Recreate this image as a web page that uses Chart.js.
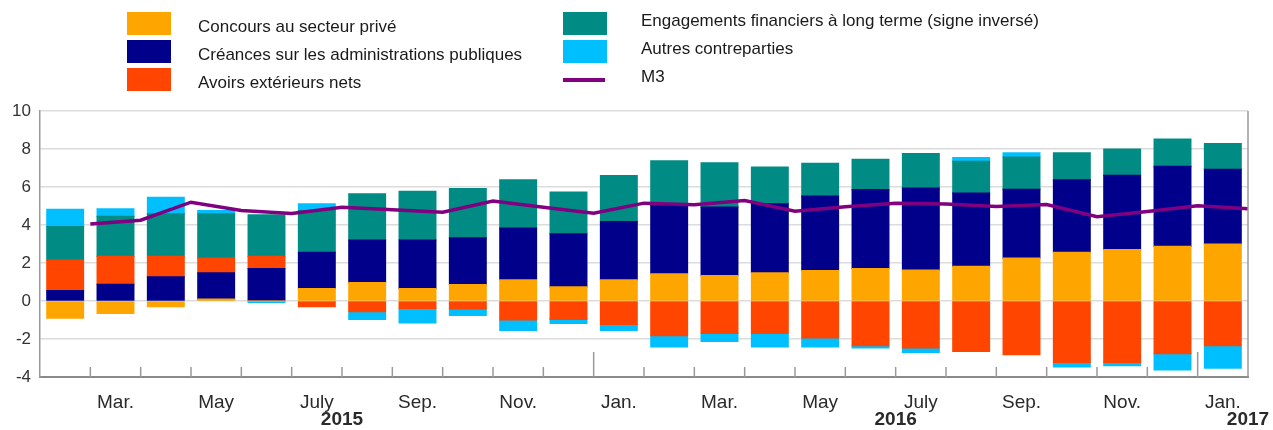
<!DOCTYPE html>
<html>
<head>
<meta charset="utf-8">
<script src="https://cdn.jsdelivr.net/npm/chart.js@4.4.1/dist/chart.umd.min.js"></script>
<style>
    body { margin: 0; background: #fff; font-family: "Liberation Sans", Arial, sans-serif; }
    #wrap { position: relative; width: 1273px; height: 430px; }
    #chart { position: absolute; left: 0; top: 0; }
    .lg-box { position: absolute; width: 44px; height: 23px; }
    .lg-line { position: absolute; width: 42px; height: 4px; }
    .lg-text { position: absolute; font-size: 17px; color: #1a1a1a; white-space: nowrap; line-height: 20px; }
</style>
</head>
<body>
<div id="wrap">
    <canvas id="chart" width="1273" height="430"></canvas>
</div>
<script>
// Mois (févr. 2015 - janv. 2017)
const months = ['Feb.', 'Mar.', 'Apr.', 'May', 'June', 'July', 'Aug.', 'Sep.', 'Oct.', 'Nov.', 'Dec.',
    'Jan.', 'Feb.', 'Mar.', 'Apr.', 'May', 'June', 'July', 'Aug.', 'Sep.', 'Oct.', 'Nov.', 'Dec.', 'Jan.'];

// Années, placées après l'index du mois indiqué
const years = ['2015', '2016', '2017'];
const yearAfter = [5, 16, 23];
// Changement d'année (trait plus long), après l'index
const yearBreaks = [10, 22];

const yTicks = [-4, -2, 0, 2, 4, 6, 8, 10];

// Séries (points de pourcentage)
const concours = [-0.9, -0.65, -0.3, 0.1, 0, 0.65, 0.97, 0.65, 0.86, 1.11, 0.74, 1.11,
    1.43, 1.34, 1.48, 1.6, 1.71, 1.62, 1.82, 2.26, 2.56, 2.7, 2.87, 3.0];
const creances = [0.55, 0.88, 1.27, 1.38, 1.71, 1.91, 2.24, 2.56, 2.46, 2.73, 2.79, 3.07,
    3.6, 3.6, 3.63, 3.92, 4.15, 4.32, 3.86, 3.61, 3.82, 3.91, 4.22, 3.93];
const avoirs = [1.6, 1.47, 1.08, 0.78, 0.64, -0.3, -0.56, -0.39, -0.41, -1.0, -0.97, -1.23,
    -1.82, -1.71, -1.71, -1.94, -2.35, -2.47, -2.65, -2.82, -3.23, -3.23, -2.77, -2.35];
const engagements = [1.77, 2.1, 2.24, 2.33, 2.18, 2.2, 2.43, 2.56, 2.59, 2.54, 2.2, 2.42,
    2.35, 2.33, 1.94, 1.73, 1.6, 1.82, 1.67, 1.71, 1.42, 1.38, 1.43, 1.36];
const autres = [0.91, 0.4, 0.86, 0.17, -0.07, 0.35, -0.41, -0.76, -0.35, -0.55, -0.21, -0.32,
    -0.6, -0.41, -0.71, -0.48, -0.12, -0.23, 0.2, 0.22, -0.24, -0.17, -0.85, -1.18];
// M3 : un point à la fin de chaque mois
const m3 = [4.05, 4.25, 5.2, 4.76, 4.6, 4.94, 4.8, 4.67, 5.26, 4.94, 4.62, 5.15,
    5.06, 5.29, 4.73, 4.96, 5.15, 5.11, 4.97, 5.08, 4.44, 4.71, 5.01, 4.85];

const seriesNames = ['Concours au secteur privé', 'Créances sur les administrations publiques',
    'Avoirs extérieurs nets', 'Engagements financiers à long terme (signe inversé)', 'Autres contreparties', 'M3'];
const seriesColors = ['#ffa500', '#00008b', '#ff4500', '#008b84', '#00bfff', '#800080'];

const FONT = '"Liberation Sans", Arial, sans-serif';

// Légende HTML en deux colonnes
function buildLegend() {
    const wrap = document.getElementById('wrap');
    const cols = [
        { boxX: 127, textX: 198, rows: [0, 1, 2], textTop: 17 },
        { boxX: 563, textX: 641, rows: [3, 4, 5], textTop: 11 }
    ];
    cols.forEach(col => {
        col.rows.forEach((s, r) => {
            const y = 12 + r * 28;
            const mark = document.createElement('div');
            if (s === 5) {
                mark.className = 'lg-line';
                mark.style.top = (y + 9.5) + 'px';
                mark.style.left = col.boxX + 'px';
            } else {
                mark.className = 'lg-box';
                mark.style.top = y + 'px';
                mark.style.left = col.boxX + 'px';
            }
            mark.style.background = seriesColors[s];
            wrap.appendChild(mark);

            const txt = document.createElement('div');
            txt.className = 'lg-text';
            txt.style.left = col.textX + 'px';
            txt.style.top = (col.textTop + r * 28) + 'px';
            txt.textContent = seriesNames[s];
            wrap.appendChild(txt);
        });
    });
}

// Petits traits de graduation vers l'intérieur, années, cadre droit
const axisDecor = {
    id: 'axisDecor',
    afterDatasetsDraw(chart) {
        const ctx = chart.ctx;
        const area = chart.chartArea;
        const x = chart.scales.x;
        const step = (area.right - area.left) / months.length;
        ctx.save();
        ctx.strokeStyle = '#9a9a9a';
        ctx.lineWidth = 1.5;
        for (let i = 0; i < months.length - 1; i++) {
            const px = (x.getPixelForValue(i) + x.getPixelForValue(i + 1)) / 2;
            const len = yearBreaks.includes(i) ? 25 : 10;
            ctx.beginPath();
            ctx.moveTo(px, area.bottom);
            ctx.lineTo(px, area.bottom - len);
            ctx.stroke();
        }
        // cadre droit
        ctx.beginPath();
        ctx.moveTo(area.right, area.top);
        ctx.lineTo(area.right, area.bottom);
        ctx.stroke();

        ctx.fillStyle = '#2a2a2a';
        ctx.font = 'bold 19px ' + FONT;
        ctx.textAlign = 'center';
        ctx.textBaseline = 'middle';
        years.forEach((y, k) => {
            const px = x.getPixelForValue(yearAfter[k]) + step / 2;
            ctx.fillText(y, px, area.bottom + 43);
        });
        ctx.restore();
    }
};

function makeBar(label, data, color) {
    return {
        type: 'bar',
        label: label,
        data: data,
        backgroundColor: color,
        borderWidth: 0,
        inflateAmount: 0.6,
        grouped: false,
        categoryPercentage: 1,
        barPercentage: 0.73,
        order: 1
    };
}

buildLegend();

const ctx = document.getElementById('chart').getContext('2d');
new Chart(ctx, {
    data: {
        labels: months,
        datasets: [
            makeBar(seriesNames[0], concours, seriesColors[0]),
            makeBar(seriesNames[1], creances, seriesColors[1]),
            makeBar(seriesNames[2], avoirs, seriesColors[2]),
            makeBar(seriesNames[3], engagements, seriesColors[3]),
            makeBar(seriesNames[4], autres, seriesColors[4]),
            {
                type: 'line',
                label: seriesNames[5],
                data: m3.map((v, i) => ({ x: i + 1, y: v })),
                xAxisID: 'x2',
                yAxisID: 'y2',
                borderColor: seriesColors[5],
                borderWidth: 3.5,
                pointRadius: 0,
                tension: 0,
                fill: false,
                order: 0
            }
        ]
    },
    options: {
        responsive: false,
        animation: false,
        layout: { padding: { top: 111, right: 25, left: 0, bottom: 0 } },
        plugins: {
            legend: { display: false },
            tooltip: { enabled: false }
        },
        scales: {
            x: {
                stacked: true,
                offset: true,
                grid: { display: false, drawTicks: false },
                border: { color: '#8a8a8a', width: 2 },
                ticks: {
                    autoSkip: false,
                    maxRotation: 0,
                    padding: 14,
                    color: '#2a2a2a',
                    font: { family: FONT, size: 19 },
                    callback: (v, i) => (i % 2 === 1 ? months[i] : '')
                },
                afterFit: scale => { scale.height = 53; }
            },
            x2: {
                type: 'linear',
                display: false,
                min: 0,
                max: months.length
            },
            y: {
                stacked: true,
                min: -4,
                max: 10,
                afterBuildTicks: scale => { scale.ticks = yTicks.map(v => ({ value: v })); },
                grid: { color: '#dcdcdc', lineWidth: 1.5, drawTicks: false },
                border: { color: '#9a9a9a', width: 1.5 },
                ticks: {
                    padding: 9,
                    color: '#333',
                    font: { family: FONT, size: 17 }
                },
                afterFit: scale => { scale.width = 40; }
            },
            y2: {
                display: false,
                min: -4,
                max: 10
            }
        }
    },
    plugins: [axisDecor]
});
</script>
</body>
</html>
